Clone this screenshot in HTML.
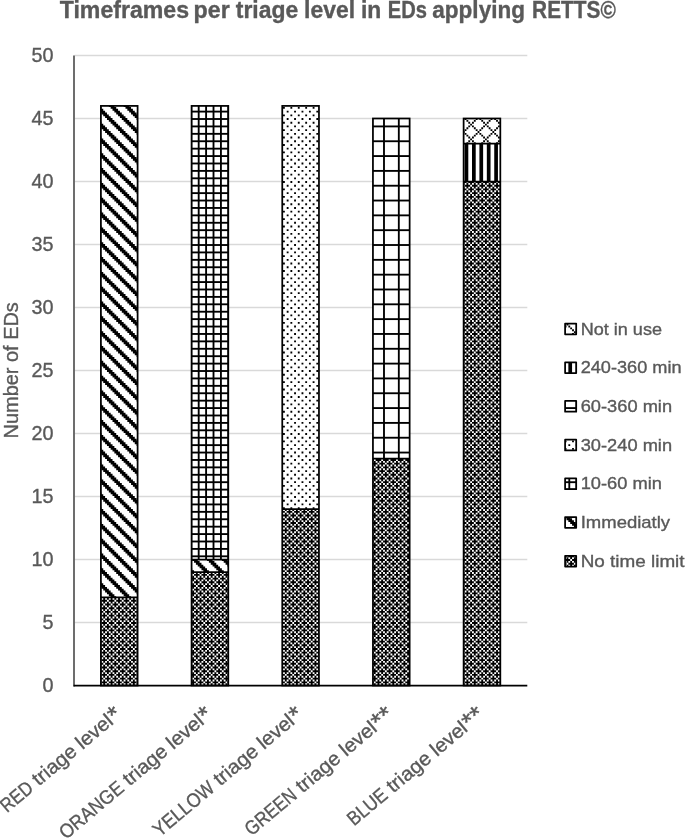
<!DOCTYPE html>
<html><head><meta charset="utf-8"><title>Timeframes per triage level</title>
<style>html,body{margin:0;padding:0;background:#fff;}svg{display:block;filter:grayscale(1);}text{font-family:"Liberation Sans",sans-serif;fill:#595959;stroke:#595959;stroke-width:0.35px;}</style></head><body>
<svg width="685" height="838" viewBox="0 0 685 838">
<defs><path id="band" d="M0 0h1.853v1.853h1.853v1.853h1.853v1.853h1.853v1.853h1.853v1.853h1.853v1.853h1.853v1.853h1.853v1.853h1.853v1.853h1.853v1.853h1.853v1.853h1.853v1.853h1.853v1.853h1.853v1.853h1.853v1.853h1.853v1.853h1.853v1.853h1.853v1.853h1.853v1.853h1.853v1.853h1.853v1.853h1.853v1.853h1.853v1.853h1.853v1.853v3.706h-1.853v-1.853h-1.853v-1.853h-1.853v-1.853h-1.853v-1.853h-1.853v-1.853h-1.853v-1.853h-1.853v-1.853h-1.853v-1.853h-1.853v-1.853h-1.853v-1.853h-1.853v-1.853h-1.853v-1.853h-1.853v-1.853h-1.853v-1.853h-1.853v-1.853h-1.853v-1.853h-1.853v-1.853h-1.853v-1.853h-1.853v-1.853h-1.853v-1.853h-1.853v-1.853h-1.853v-1.853h-1.853v-1.853h-1.853v-1.853z" fill="#000"/></defs>
<rect width="685" height="838" fill="#fff"/>
<text x="59.69" y="17.9" font-size="23.3" font-weight="bold" stroke="none" textLength="129.41" lengthAdjust="spacingAndGlyphs">Timeframes</text>
<text x="193.62" y="17.9" font-size="23.3" font-weight="bold" stroke="none" textLength="36.04" lengthAdjust="spacingAndGlyphs">per</text>
<text x="235.76" y="17.9" font-size="23.3" font-weight="bold" stroke="none" textLength="62.43" lengthAdjust="spacingAndGlyphs">triage</text>
<text x="304.10" y="17.9" font-size="23.3" font-weight="bold" stroke="none" textLength="50.95" lengthAdjust="spacingAndGlyphs">level</text>
<text x="361.02" y="17.9" font-size="23.3" font-weight="bold" stroke="none" textLength="20.31" lengthAdjust="spacingAndGlyphs">in</text>
<text x="387.76" y="17.9" font-size="23.3" font-weight="bold" stroke="none" textLength="39.13" lengthAdjust="spacingAndGlyphs">EDs</text>
<text x="432.32" y="17.9" font-size="23.3" font-weight="bold" stroke="none" textLength="92.63" lengthAdjust="spacingAndGlyphs">applying</text>
<text x="532.10" y="17.9" font-size="23.3" font-weight="bold" stroke="none" textLength="83.73" lengthAdjust="spacingAndGlyphs">RETTS©</text>
<line x1="74.6" y1="622.50" x2="527.3" y2="622.50" stroke="#d9d9d9" stroke-width="1.3"/>
<line x1="74.6" y1="559.50" x2="527.3" y2="559.50" stroke="#d9d9d9" stroke-width="1.3"/>
<line x1="74.6" y1="496.50" x2="527.3" y2="496.50" stroke="#d9d9d9" stroke-width="1.3"/>
<line x1="74.6" y1="433.50" x2="527.3" y2="433.50" stroke="#d9d9d9" stroke-width="1.3"/>
<line x1="74.6" y1="370.50" x2="527.3" y2="370.50" stroke="#d9d9d9" stroke-width="1.3"/>
<line x1="74.6" y1="307.50" x2="527.3" y2="307.50" stroke="#d9d9d9" stroke-width="1.3"/>
<line x1="74.6" y1="244.50" x2="527.3" y2="244.50" stroke="#d9d9d9" stroke-width="1.3"/>
<line x1="74.6" y1="181.50" x2="527.3" y2="181.50" stroke="#d9d9d9" stroke-width="1.3"/>
<line x1="74.6" y1="118.50" x2="527.3" y2="118.50" stroke="#d9d9d9" stroke-width="1.3"/>
<line x1="74.6" y1="55.50" x2="527.3" y2="55.50" stroke="#d9d9d9" stroke-width="1.3"/>
<text x="53.6" y="691.90" font-size="19.8" text-anchor="end">0</text>
<text x="53.6" y="628.90" font-size="19.8" text-anchor="end">5</text>
<text x="53.6" y="565.90" font-size="19.8" text-anchor="end">10</text>
<text x="53.6" y="502.90" font-size="19.8" text-anchor="end">15</text>
<text x="53.6" y="439.90" font-size="19.8" text-anchor="end">20</text>
<text x="53.6" y="376.90" font-size="19.8" text-anchor="end">25</text>
<text x="53.6" y="313.90" font-size="19.8" text-anchor="end">30</text>
<text x="53.6" y="250.90" font-size="19.8" text-anchor="end">35</text>
<text x="53.6" y="187.90" font-size="19.8" text-anchor="end">40</text>
<text x="53.6" y="124.90" font-size="19.8" text-anchor="end">45</text>
<text x="53.6" y="61.90" font-size="19.8" text-anchor="end">50</text>
<text transform="translate(17.7,370.3) rotate(-90)" font-size="20.7" text-anchor="middle" textLength="136.2" lengthAdjust="spacingAndGlyphs">Number of EDs</text>
<clipPath id="c1"><rect x="100.9" y="597.3" width="36.7" height="88.2"/></clipPath><g clip-path="url(#c1)"><rect x="100.9" y="597.3" width="36.7" height="88.2" fill="#000"/><g stroke="#fff" stroke-width="1.853"><line x1="98.625" y1="594.303" x2="98.625" y2="686.5" stroke-dasharray="1.853 1.853 1.853 1.853"/><line x1="100.478" y1="592.45" x2="100.478" y2="686.5" stroke-dasharray="1.853 5.559"/><line x1="102.331" y1="594.303" x2="102.331" y2="686.5" stroke-dasharray="1.853 1.853 1.853 1.853"/><line x1="104.184" y1="596.156" x2="104.184" y2="686.5" stroke-dasharray="1.853 5.559"/><line x1="106.037" y1="594.303" x2="106.037" y2="686.5" stroke-dasharray="1.853 1.853 1.853 1.853"/><line x1="107.89" y1="592.45" x2="107.89" y2="686.5" stroke-dasharray="1.853 5.559"/><line x1="109.743" y1="594.303" x2="109.743" y2="686.5" stroke-dasharray="1.853 1.853 1.853 1.853"/><line x1="111.596" y1="596.156" x2="111.596" y2="686.5" stroke-dasharray="1.853 5.559"/><line x1="113.45" y1="594.303" x2="113.45" y2="686.5" stroke-dasharray="1.853 1.853 1.853 1.853"/><line x1="115.302" y1="592.45" x2="115.302" y2="686.5" stroke-dasharray="1.853 5.559"/><line x1="117.155" y1="594.303" x2="117.155" y2="686.5" stroke-dasharray="1.853 1.853 1.853 1.853"/><line x1="119.008" y1="596.156" x2="119.008" y2="686.5" stroke-dasharray="1.853 5.559"/><line x1="120.861" y1="594.303" x2="120.861" y2="686.5" stroke-dasharray="1.853 1.853 1.853 1.853"/><line x1="122.714" y1="592.45" x2="122.714" y2="686.5" stroke-dasharray="1.853 5.559"/><line x1="124.567" y1="594.303" x2="124.567" y2="686.5" stroke-dasharray="1.853 1.853 1.853 1.853"/><line x1="126.42" y1="596.156" x2="126.42" y2="686.5" stroke-dasharray="1.853 5.559"/><line x1="128.274" y1="594.303" x2="128.274" y2="686.5" stroke-dasharray="1.853 1.853 1.853 1.853"/><line x1="130.127" y1="592.45" x2="130.127" y2="686.5" stroke-dasharray="1.853 5.559"/><line x1="131.98" y1="594.303" x2="131.98" y2="686.5" stroke-dasharray="1.853 1.853 1.853 1.853"/><line x1="133.833" y1="596.156" x2="133.833" y2="686.5" stroke-dasharray="1.853 5.559"/><line x1="135.686" y1="594.303" x2="135.686" y2="686.5" stroke-dasharray="1.853 1.853 1.853 1.853"/><line x1="137.538" y1="592.45" x2="137.538" y2="686.5" stroke-dasharray="1.853 5.559"/><line x1="139.392" y1="594.303" x2="139.392" y2="686.5" stroke-dasharray="1.853 1.853 1.853 1.853"/></g></g>
<clipPath id="c2"><rect x="100.9" y="105.9" width="36.7" height="491.4"/></clipPath><g clip-path="url(#c2)"><rect x="100.9" y="105.9" width="36.7" height="491.4" fill="#fff"/><use href="#band" x="97.699" y="30.991"/><use href="#band" x="97.699" y="45.815"/><use href="#band" x="97.699" y="60.639"/><use href="#band" x="97.699" y="75.463"/><use href="#band" x="97.699" y="90.287"/><use href="#band" x="97.699" y="105.111"/><use href="#band" x="97.699" y="119.935"/><use href="#band" x="97.699" y="134.759"/><use href="#band" x="97.699" y="149.583"/><use href="#band" x="97.699" y="164.407"/><use href="#band" x="97.699" y="179.231"/><use href="#band" x="97.699" y="194.055"/><use href="#band" x="97.699" y="208.879"/><use href="#band" x="97.699" y="223.703"/><use href="#band" x="97.699" y="238.527"/><use href="#band" x="97.699" y="253.351"/><use href="#band" x="97.699" y="268.175"/><use href="#band" x="97.699" y="282.999"/><use href="#band" x="97.699" y="297.823"/><use href="#band" x="97.699" y="312.647"/><use href="#band" x="97.699" y="327.471"/><use href="#band" x="97.699" y="342.295"/><use href="#band" x="97.699" y="357.119"/><use href="#band" x="97.699" y="371.943"/><use href="#band" x="97.699" y="386.767"/><use href="#band" x="97.699" y="401.591"/><use href="#band" x="97.699" y="416.415"/><use href="#band" x="97.699" y="431.239"/><use href="#band" x="97.699" y="446.063"/><use href="#band" x="97.699" y="460.887"/><use href="#band" x="97.699" y="475.711"/><use href="#band" x="97.699" y="490.535"/><use href="#band" x="97.699" y="505.359"/><use href="#band" x="97.699" y="520.183"/><use href="#band" x="97.699" y="535.007"/><use href="#band" x="97.699" y="549.831"/><use href="#band" x="97.699" y="564.655"/><use href="#band" x="97.699" y="579.479"/><use href="#band" x="97.699" y="594.303"/><use href="#band" x="97.699" y="609.127"/></g>
<rect x="100.90" y="105.90" width="36.70" height="579.60" fill="none" stroke="#000" stroke-width="1.75"/>
<line x1="100.90" y1="597.30" x2="137.60" y2="597.30" stroke="#000" stroke-width="1.75"/>
<clipPath id="c3"><rect x="191.58" y="572.1" width="36.7" height="113.4"/></clipPath><g clip-path="url(#c3)"><rect x="191.58" y="572.1" width="36.7" height="113.4" fill="#000"/><g stroke="#fff" stroke-width="1.853"><line x1="189.423" y1="570.214" x2="189.423" y2="686.5" stroke-dasharray="1.853 5.559"/><line x1="191.275" y1="572.067" x2="191.275" y2="686.5" stroke-dasharray="1.853 1.853 1.853 1.853"/><line x1="193.129" y1="573.92" x2="193.129" y2="686.5" stroke-dasharray="1.853 5.559"/><line x1="194.982" y1="572.067" x2="194.982" y2="686.5" stroke-dasharray="1.853 1.853 1.853 1.853"/><line x1="196.835" y1="570.214" x2="196.835" y2="686.5" stroke-dasharray="1.853 5.559"/><line x1="198.688" y1="572.067" x2="198.688" y2="686.5" stroke-dasharray="1.853 1.853 1.853 1.853"/><line x1="200.541" y1="573.92" x2="200.541" y2="686.5" stroke-dasharray="1.853 5.559"/><line x1="202.394" y1="572.067" x2="202.394" y2="686.5" stroke-dasharray="1.853 1.853 1.853 1.853"/><line x1="204.246" y1="570.214" x2="204.246" y2="686.5" stroke-dasharray="1.853 5.559"/><line x1="206.1" y1="572.067" x2="206.1" y2="686.5" stroke-dasharray="1.853 1.853 1.853 1.853"/><line x1="207.953" y1="573.92" x2="207.953" y2="686.5" stroke-dasharray="1.853 5.559"/><line x1="209.805" y1="572.067" x2="209.805" y2="686.5" stroke-dasharray="1.853 1.853 1.853 1.853"/><line x1="211.659" y1="570.214" x2="211.659" y2="686.5" stroke-dasharray="1.853 5.559"/><line x1="213.512" y1="572.067" x2="213.512" y2="686.5" stroke-dasharray="1.853 1.853 1.853 1.853"/><line x1="215.365" y1="573.92" x2="215.365" y2="686.5" stroke-dasharray="1.853 5.559"/><line x1="217.218" y1="572.067" x2="217.218" y2="686.5" stroke-dasharray="1.853 1.853 1.853 1.853"/><line x1="219.071" y1="570.214" x2="219.071" y2="686.5" stroke-dasharray="1.853 5.559"/><line x1="220.924" y1="572.067" x2="220.924" y2="686.5" stroke-dasharray="1.853 1.853 1.853 1.853"/><line x1="222.776" y1="573.92" x2="222.776" y2="686.5" stroke-dasharray="1.853 5.559"/><line x1="224.63" y1="572.067" x2="224.63" y2="686.5" stroke-dasharray="1.853 1.853 1.853 1.853"/><line x1="226.483" y1="570.214" x2="226.483" y2="686.5" stroke-dasharray="1.853 5.559"/><line x1="228.335" y1="572.067" x2="228.335" y2="686.5" stroke-dasharray="1.853 1.853 1.853 1.853"/><line x1="230.189" y1="573.92" x2="230.189" y2="686.5" stroke-dasharray="1.853 5.559"/></g></g>
<clipPath id="c4"><rect x="191.58" y="559.5" width="36.7" height="12.6"/></clipPath><g clip-path="url(#c4)"><rect x="191.58" y="559.5" width="36.7" height="12.6" fill="#fff"/><use href="#band" x="188.496" y="492.388"/><use href="#band" x="188.496" y="507.212"/><use href="#band" x="188.496" y="522.036"/><use href="#band" x="188.496" y="536.86"/><use href="#band" x="188.496" y="551.684"/><use href="#band" x="188.496" y="566.508"/><use href="#band" x="188.496" y="581.332"/></g>
<clipPath id="c5"><rect x="191.58" y="105.9" width="36.7" height="453.6"/></clipPath><g clip-path="url(#c5)"><rect x="191.58" y="105.9" width="36.7" height="453.6" fill="#fff"/><g stroke="#000" stroke-width="1.853"><rect x="190.349" y="105.9" width="1.853" height="453.6" fill="#000" stroke="none"/><rect x="197.761" y="105.9" width="1.853" height="453.6" fill="#000" stroke="none"/><rect x="205.173" y="105.9" width="1.853" height="453.6" fill="#000" stroke="none"/><rect x="212.585" y="105.9" width="1.853" height="453.6" fill="#000" stroke="none"/><rect x="219.997" y="105.9" width="1.853" height="453.6" fill="#000" stroke="none"/><rect x="227.409" y="105.9" width="1.853" height="453.6" fill="#000" stroke="none"/><rect x="191.58" y="103.258" width="36.7" height="1.853" fill="#000" stroke="none"/><rect x="191.58" y="110.67" width="36.7" height="1.853" fill="#000" stroke="none"/><rect x="191.58" y="118.082" width="36.7" height="1.853" fill="#000" stroke="none"/><rect x="191.58" y="125.494" width="36.7" height="1.853" fill="#000" stroke="none"/><rect x="191.58" y="132.906" width="36.7" height="1.853" fill="#000" stroke="none"/><rect x="191.58" y="140.318" width="36.7" height="1.853" fill="#000" stroke="none"/><rect x="191.58" y="147.73" width="36.7" height="1.853" fill="#000" stroke="none"/><rect x="191.58" y="155.142" width="36.7" height="1.853" fill="#000" stroke="none"/><rect x="191.58" y="162.554" width="36.7" height="1.853" fill="#000" stroke="none"/><rect x="191.58" y="169.966" width="36.7" height="1.853" fill="#000" stroke="none"/><rect x="191.58" y="177.378" width="36.7" height="1.853" fill="#000" stroke="none"/><rect x="191.58" y="184.79" width="36.7" height="1.853" fill="#000" stroke="none"/><rect x="191.58" y="192.202" width="36.7" height="1.853" fill="#000" stroke="none"/><rect x="191.58" y="199.614" width="36.7" height="1.853" fill="#000" stroke="none"/><rect x="191.58" y="207.026" width="36.7" height="1.853" fill="#000" stroke="none"/><rect x="191.58" y="214.438" width="36.7" height="1.853" fill="#000" stroke="none"/><rect x="191.58" y="221.85" width="36.7" height="1.853" fill="#000" stroke="none"/><rect x="191.58" y="229.262" width="36.7" height="1.853" fill="#000" stroke="none"/><rect x="191.58" y="236.674" width="36.7" height="1.853" fill="#000" stroke="none"/><rect x="191.58" y="244.086" width="36.7" height="1.853" fill="#000" stroke="none"/><rect x="191.58" y="251.498" width="36.7" height="1.853" fill="#000" stroke="none"/><rect x="191.58" y="258.91" width="36.7" height="1.853" fill="#000" stroke="none"/><rect x="191.58" y="266.322" width="36.7" height="1.853" fill="#000" stroke="none"/><rect x="191.58" y="273.734" width="36.7" height="1.853" fill="#000" stroke="none"/><rect x="191.58" y="281.146" width="36.7" height="1.853" fill="#000" stroke="none"/><rect x="191.58" y="288.558" width="36.7" height="1.853" fill="#000" stroke="none"/><rect x="191.58" y="295.97" width="36.7" height="1.853" fill="#000" stroke="none"/><rect x="191.58" y="303.382" width="36.7" height="1.853" fill="#000" stroke="none"/><rect x="191.58" y="310.794" width="36.7" height="1.853" fill="#000" stroke="none"/><rect x="191.58" y="318.206" width="36.7" height="1.853" fill="#000" stroke="none"/><rect x="191.58" y="325.618" width="36.7" height="1.853" fill="#000" stroke="none"/><rect x="191.58" y="333.03" width="36.7" height="1.853" fill="#000" stroke="none"/><rect x="191.58" y="340.442" width="36.7" height="1.853" fill="#000" stroke="none"/><rect x="191.58" y="347.854" width="36.7" height="1.853" fill="#000" stroke="none"/><rect x="191.58" y="355.266" width="36.7" height="1.853" fill="#000" stroke="none"/><rect x="191.58" y="362.678" width="36.7" height="1.853" fill="#000" stroke="none"/><rect x="191.58" y="370.09" width="36.7" height="1.853" fill="#000" stroke="none"/><rect x="191.58" y="377.502" width="36.7" height="1.853" fill="#000" stroke="none"/><rect x="191.58" y="384.914" width="36.7" height="1.853" fill="#000" stroke="none"/><rect x="191.58" y="392.326" width="36.7" height="1.853" fill="#000" stroke="none"/><rect x="191.58" y="399.738" width="36.7" height="1.853" fill="#000" stroke="none"/><rect x="191.58" y="407.15" width="36.7" height="1.853" fill="#000" stroke="none"/><rect x="191.58" y="414.562" width="36.7" height="1.853" fill="#000" stroke="none"/><rect x="191.58" y="421.974" width="36.7" height="1.853" fill="#000" stroke="none"/><rect x="191.58" y="429.386" width="36.7" height="1.853" fill="#000" stroke="none"/><rect x="191.58" y="436.798" width="36.7" height="1.853" fill="#000" stroke="none"/><rect x="191.58" y="444.21" width="36.7" height="1.853" fill="#000" stroke="none"/><rect x="191.58" y="451.622" width="36.7" height="1.853" fill="#000" stroke="none"/><rect x="191.58" y="459.034" width="36.7" height="1.853" fill="#000" stroke="none"/><rect x="191.58" y="466.446" width="36.7" height="1.853" fill="#000" stroke="none"/><rect x="191.58" y="473.858" width="36.7" height="1.853" fill="#000" stroke="none"/><rect x="191.58" y="481.27" width="36.7" height="1.853" fill="#000" stroke="none"/><rect x="191.58" y="488.682" width="36.7" height="1.853" fill="#000" stroke="none"/><rect x="191.58" y="496.094" width="36.7" height="1.853" fill="#000" stroke="none"/><rect x="191.58" y="503.506" width="36.7" height="1.853" fill="#000" stroke="none"/><rect x="191.58" y="510.918" width="36.7" height="1.853" fill="#000" stroke="none"/><rect x="191.58" y="518.33" width="36.7" height="1.853" fill="#000" stroke="none"/><rect x="191.58" y="525.742" width="36.7" height="1.853" fill="#000" stroke="none"/><rect x="191.58" y="533.154" width="36.7" height="1.853" fill="#000" stroke="none"/><rect x="191.58" y="540.566" width="36.7" height="1.853" fill="#000" stroke="none"/><rect x="191.58" y="547.978" width="36.7" height="1.853" fill="#000" stroke="none"/><rect x="191.58" y="555.39" width="36.7" height="1.853" fill="#000" stroke="none"/></g></g>
<rect x="191.58" y="105.90" width="36.70" height="579.60" fill="none" stroke="#000" stroke-width="1.75"/>
<line x1="191.58" y1="572.10" x2="228.28" y2="572.10" stroke="#000" stroke-width="1.75"/>
<line x1="191.58" y1="559.50" x2="228.28" y2="559.50" stroke="#000" stroke-width="1.75"/>
<clipPath id="c6"><rect x="282.26" y="509.1" width="36.7" height="176.4"/></clipPath><g clip-path="url(#c6)"><rect x="282.26" y="509.1" width="36.7" height="176.4" fill="#000"/><g stroke="#fff" stroke-width="1.853"><line x1="280.219" y1="505.359" x2="280.219" y2="686.5" stroke-dasharray="1.853 1.853 1.853 1.853"/><line x1="282.072" y1="507.212" x2="282.072" y2="686.5" stroke-dasharray="1.853 5.559"/><line x1="283.925" y1="505.359" x2="283.925" y2="686.5" stroke-dasharray="1.853 1.853 1.853 1.853"/><line x1="285.779" y1="503.506" x2="285.779" y2="686.5" stroke-dasharray="1.853 5.559"/><line x1="287.632" y1="505.359" x2="287.632" y2="686.5" stroke-dasharray="1.853 1.853 1.853 1.853"/><line x1="289.485" y1="507.212" x2="289.485" y2="686.5" stroke-dasharray="1.853 5.559"/><line x1="291.338" y1="505.359" x2="291.338" y2="686.5" stroke-dasharray="1.853 1.853 1.853 1.853"/><line x1="293.19" y1="503.506" x2="293.19" y2="686.5" stroke-dasharray="1.853 5.559"/><line x1="295.043" y1="505.359" x2="295.043" y2="686.5" stroke-dasharray="1.853 1.853 1.853 1.853"/><line x1="296.897" y1="507.212" x2="296.897" y2="686.5" stroke-dasharray="1.853 5.559"/><line x1="298.75" y1="505.359" x2="298.75" y2="686.5" stroke-dasharray="1.853 1.853 1.853 1.853"/><line x1="300.603" y1="503.506" x2="300.603" y2="686.5" stroke-dasharray="1.853 5.559"/><line x1="302.456" y1="505.359" x2="302.456" y2="686.5" stroke-dasharray="1.853 1.853 1.853 1.853"/><line x1="304.308" y1="507.212" x2="304.308" y2="686.5" stroke-dasharray="1.853 5.559"/><line x1="306.161" y1="505.359" x2="306.161" y2="686.5" stroke-dasharray="1.853 1.853 1.853 1.853"/><line x1="308.014" y1="503.506" x2="308.014" y2="686.5" stroke-dasharray="1.853 5.559"/><line x1="309.868" y1="505.359" x2="309.868" y2="686.5" stroke-dasharray="1.853 1.853 1.853 1.853"/><line x1="311.721" y1="507.212" x2="311.721" y2="686.5" stroke-dasharray="1.853 5.559"/><line x1="313.574" y1="505.359" x2="313.574" y2="686.5" stroke-dasharray="1.853 1.853 1.853 1.853"/><line x1="315.427" y1="503.506" x2="315.427" y2="686.5" stroke-dasharray="1.853 5.559"/><line x1="317.279" y1="505.359" x2="317.279" y2="686.5" stroke-dasharray="1.853 1.853 1.853 1.853"/><line x1="319.132" y1="507.212" x2="319.132" y2="686.5" stroke-dasharray="1.853 5.559"/><line x1="320.986" y1="505.359" x2="320.986" y2="686.5" stroke-dasharray="1.853 1.853 1.853 1.853"/></g></g>
<clipPath id="c7"><rect x="282.26" y="105.9" width="36.7" height="403.2"/></clipPath><g clip-path="url(#c7)"><rect x="282.26" y="105.9" width="36.7" height="403.2" fill="#fff"/><g stroke="#000" stroke-width="1.853"><line x1="280.219" y1="103.258" x2="280.219" y2="510.1" stroke-dasharray="1.853 5.559"/><line x1="283.925" y1="106.964" x2="283.925" y2="510.1" stroke-dasharray="1.853 5.559"/><line x1="287.632" y1="103.258" x2="287.632" y2="510.1" stroke-dasharray="1.853 5.559"/><line x1="291.338" y1="106.964" x2="291.338" y2="510.1" stroke-dasharray="1.853 5.559"/><line x1="295.043" y1="103.258" x2="295.043" y2="510.1" stroke-dasharray="1.853 5.559"/><line x1="298.75" y1="106.964" x2="298.75" y2="510.1" stroke-dasharray="1.853 5.559"/><line x1="302.456" y1="103.258" x2="302.456" y2="510.1" stroke-dasharray="1.853 5.559"/><line x1="306.161" y1="106.964" x2="306.161" y2="510.1" stroke-dasharray="1.853 5.559"/><line x1="309.868" y1="103.258" x2="309.868" y2="510.1" stroke-dasharray="1.853 5.559"/><line x1="313.574" y1="106.964" x2="313.574" y2="510.1" stroke-dasharray="1.853 5.559"/><line x1="317.279" y1="103.258" x2="317.279" y2="510.1" stroke-dasharray="1.853 5.559"/><line x1="320.986" y1="106.964" x2="320.986" y2="510.1" stroke-dasharray="1.853 5.559"/></g></g>
<rect x="282.26" y="105.90" width="36.70" height="579.60" fill="none" stroke="#000" stroke-width="1.75"/>
<line x1="282.26" y1="509.10" x2="318.96" y2="509.10" stroke="#000" stroke-width="1.75"/>
<clipPath id="c8"><rect x="372.94" y="458.7" width="36.7" height="226.8"/></clipPath><g clip-path="url(#c8)"><rect x="372.94" y="458.7" width="36.7" height="226.8" fill="#000"/><g stroke="#fff" stroke-width="1.853"><line x1="371.017" y1="455.328" x2="371.017" y2="686.5" stroke-dasharray="1.853 5.559"/><line x1="372.87" y1="453.475" x2="372.87" y2="686.5" stroke-dasharray="1.853 1.853 1.853 1.853"/><line x1="374.723" y1="451.622" x2="374.723" y2="686.5" stroke-dasharray="1.853 5.559"/><line x1="376.575" y1="453.475" x2="376.575" y2="686.5" stroke-dasharray="1.853 1.853 1.853 1.853"/><line x1="378.428" y1="455.328" x2="378.428" y2="686.5" stroke-dasharray="1.853 5.559"/><line x1="380.281" y1="453.475" x2="380.281" y2="686.5" stroke-dasharray="1.853 1.853 1.853 1.853"/><line x1="382.135" y1="451.622" x2="382.135" y2="686.5" stroke-dasharray="1.853 5.559"/><line x1="383.988" y1="453.475" x2="383.988" y2="686.5" stroke-dasharray="1.853 1.853 1.853 1.853"/><line x1="385.841" y1="455.328" x2="385.841" y2="686.5" stroke-dasharray="1.853 5.559"/><line x1="387.694" y1="453.475" x2="387.694" y2="686.5" stroke-dasharray="1.853 1.853 1.853 1.853"/><line x1="389.546" y1="451.622" x2="389.546" y2="686.5" stroke-dasharray="1.853 5.559"/><line x1="391.399" y1="453.475" x2="391.399" y2="686.5" stroke-dasharray="1.853 1.853 1.853 1.853"/><line x1="393.252" y1="455.328" x2="393.252" y2="686.5" stroke-dasharray="1.853 5.559"/><line x1="395.106" y1="453.475" x2="395.106" y2="686.5" stroke-dasharray="1.853 1.853 1.853 1.853"/><line x1="396.959" y1="451.622" x2="396.959" y2="686.5" stroke-dasharray="1.853 5.559"/><line x1="398.812" y1="453.475" x2="398.812" y2="686.5" stroke-dasharray="1.853 1.853 1.853 1.853"/><line x1="400.665" y1="455.328" x2="400.665" y2="686.5" stroke-dasharray="1.853 5.559"/><line x1="402.517" y1="453.475" x2="402.517" y2="686.5" stroke-dasharray="1.853 1.853 1.853 1.853"/><line x1="404.37" y1="451.622" x2="404.37" y2="686.5" stroke-dasharray="1.853 5.559"/><line x1="406.224" y1="453.475" x2="406.224" y2="686.5" stroke-dasharray="1.853 1.853 1.853 1.853"/><line x1="408.077" y1="455.328" x2="408.077" y2="686.5" stroke-dasharray="1.853 5.559"/><line x1="409.93" y1="453.475" x2="409.93" y2="686.5" stroke-dasharray="1.853 1.853 1.853 1.853"/><line x1="411.783" y1="451.622" x2="411.783" y2="686.5" stroke-dasharray="1.853 5.559"/></g></g>
<clipPath id="c9"><rect x="372.94" y="118.5" width="36.7" height="340.2"/></clipPath><g clip-path="url(#c9)"><rect x="372.94" y="118.5" width="36.7" height="340.2" fill="#fff"/><g stroke="#000" stroke-width="1.853"><rect x="383.061" y="118.5" width="1.853" height="340.2" fill="#000" stroke="none"/><rect x="397.885" y="118.5" width="1.853" height="340.2" fill="#000" stroke="none"/><rect x="372.94" y="110.67" width="36.7" height="1.853" fill="#000" stroke="none"/><rect x="372.94" y="125.494" width="36.7" height="1.853" fill="#000" stroke="none"/><rect x="372.94" y="140.318" width="36.7" height="1.853" fill="#000" stroke="none"/><rect x="372.94" y="155.142" width="36.7" height="1.853" fill="#000" stroke="none"/><rect x="372.94" y="169.966" width="36.7" height="1.853" fill="#000" stroke="none"/><rect x="372.94" y="184.79" width="36.7" height="1.853" fill="#000" stroke="none"/><rect x="372.94" y="199.614" width="36.7" height="1.853" fill="#000" stroke="none"/><rect x="372.94" y="214.438" width="36.7" height="1.853" fill="#000" stroke="none"/><rect x="372.94" y="229.262" width="36.7" height="1.853" fill="#000" stroke="none"/><rect x="372.94" y="244.086" width="36.7" height="1.853" fill="#000" stroke="none"/><rect x="372.94" y="258.91" width="36.7" height="1.853" fill="#000" stroke="none"/><rect x="372.94" y="273.734" width="36.7" height="1.853" fill="#000" stroke="none"/><rect x="372.94" y="288.558" width="36.7" height="1.853" fill="#000" stroke="none"/><rect x="372.94" y="303.382" width="36.7" height="1.853" fill="#000" stroke="none"/><rect x="372.94" y="318.206" width="36.7" height="1.853" fill="#000" stroke="none"/><rect x="372.94" y="333.03" width="36.7" height="1.853" fill="#000" stroke="none"/><rect x="372.94" y="347.854" width="36.7" height="1.853" fill="#000" stroke="none"/><rect x="372.94" y="362.678" width="36.7" height="1.853" fill="#000" stroke="none"/><rect x="372.94" y="377.502" width="36.7" height="1.853" fill="#000" stroke="none"/><rect x="372.94" y="392.326" width="36.7" height="1.853" fill="#000" stroke="none"/><rect x="372.94" y="407.15" width="36.7" height="1.853" fill="#000" stroke="none"/><rect x="372.94" y="421.974" width="36.7" height="1.853" fill="#000" stroke="none"/><rect x="372.94" y="436.798" width="36.7" height="1.853" fill="#000" stroke="none"/><rect x="372.94" y="451.622" width="36.7" height="1.853" fill="#000" stroke="none"/></g></g>
<rect x="372.94" y="118.50" width="36.70" height="567.00" fill="none" stroke="#000" stroke-width="1.75"/>
<line x1="372.94" y1="458.70" x2="409.64" y2="458.70" stroke="#000" stroke-width="1.75"/>
<clipPath id="c10"><rect x="463.62" y="181.5" width="36.7" height="504"/></clipPath><g clip-path="url(#c10)"><rect x="463.62" y="181.5" width="36.7" height="504" fill="#000"/><g stroke="#fff" stroke-width="1.853"><line x1="461.813" y1="179.231" x2="461.813" y2="686.5" stroke-dasharray="1.853 1.853 1.853 1.853"/><line x1="463.666" y1="177.378" x2="463.666" y2="686.5" stroke-dasharray="1.853 5.559"/><line x1="465.519" y1="179.231" x2="465.519" y2="686.5" stroke-dasharray="1.853 1.853 1.853 1.853"/><line x1="467.373" y1="181.084" x2="467.373" y2="686.5" stroke-dasharray="1.853 5.559"/><line x1="469.226" y1="179.231" x2="469.226" y2="686.5" stroke-dasharray="1.853 1.853 1.853 1.853"/><line x1="471.079" y1="177.378" x2="471.079" y2="686.5" stroke-dasharray="1.853 5.559"/><line x1="472.932" y1="179.231" x2="472.932" y2="686.5" stroke-dasharray="1.853 1.853 1.853 1.853"/><line x1="474.784" y1="181.084" x2="474.784" y2="686.5" stroke-dasharray="1.853 5.559"/><line x1="476.637" y1="179.231" x2="476.637" y2="686.5" stroke-dasharray="1.853 1.853 1.853 1.853"/><line x1="478.49" y1="177.378" x2="478.49" y2="686.5" stroke-dasharray="1.853 5.559"/><line x1="480.344" y1="179.231" x2="480.344" y2="686.5" stroke-dasharray="1.853 1.853 1.853 1.853"/><line x1="482.197" y1="181.084" x2="482.197" y2="686.5" stroke-dasharray="1.853 5.559"/><line x1="484.05" y1="179.231" x2="484.05" y2="686.5" stroke-dasharray="1.853 1.853 1.853 1.853"/><line x1="485.903" y1="177.378" x2="485.903" y2="686.5" stroke-dasharray="1.853 5.559"/><line x1="487.755" y1="179.231" x2="487.755" y2="686.5" stroke-dasharray="1.853 1.853 1.853 1.853"/><line x1="489.608" y1="181.084" x2="489.608" y2="686.5" stroke-dasharray="1.853 5.559"/><line x1="491.462" y1="179.231" x2="491.462" y2="686.5" stroke-dasharray="1.853 1.853 1.853 1.853"/><line x1="493.315" y1="177.378" x2="493.315" y2="686.5" stroke-dasharray="1.853 5.559"/><line x1="495.168" y1="179.231" x2="495.168" y2="686.5" stroke-dasharray="1.853 1.853 1.853 1.853"/><line x1="497.021" y1="181.084" x2="497.021" y2="686.5" stroke-dasharray="1.853 5.559"/><line x1="498.873" y1="179.231" x2="498.873" y2="686.5" stroke-dasharray="1.853 1.853 1.853 1.853"/><line x1="500.726" y1="177.378" x2="500.726" y2="686.5" stroke-dasharray="1.853 5.559"/><line x1="502.579" y1="179.231" x2="502.579" y2="686.5" stroke-dasharray="1.853 1.853 1.853 1.853"/></g></g>
<clipPath id="c11"><rect x="463.62" y="143.7" width="36.7" height="37.8"/></clipPath><g clip-path="url(#c11)"><rect x="463.62" y="143.7" width="36.7" height="37.8" fill="#fff"/><g stroke="#000" stroke-width="1.853"><rect x="464.593" y="143.7" width="3.706" height="37.8" fill="#000" stroke="none"/><rect x="472.005" y="143.7" width="3.706" height="37.8" fill="#000" stroke="none"/><rect x="479.417" y="143.7" width="3.706" height="37.8" fill="#000" stroke="none"/><rect x="486.829" y="143.7" width="3.706" height="37.8" fill="#000" stroke="none"/><rect x="494.241" y="143.7" width="3.706" height="37.8" fill="#000" stroke="none"/><rect x="501.653" y="143.7" width="1.853" height="37.8" fill="#000" stroke="none"/></g></g>
<clipPath id="c12"><rect x="463.62" y="118.5" width="36.7" height="25.2"/></clipPath><g clip-path="url(#c12)"><rect x="463.62" y="118.5" width="36.7" height="25.2" fill="#fff"/><g stroke="#000" stroke-width="1.853"><line x1="461.813" y1="103.258" x2="461.813" y2="144.7" stroke-dasharray="1.853 9.265 1.853 1.853"/><line x1="463.666" y1="116.229" x2="463.666" y2="144.7" stroke-dasharray="1.853 12.971"/><line x1="465.519" y1="103.258" x2="465.519" y2="144.7" stroke-dasharray="1.853 9.265 1.853 1.853"/><line x1="467.373" y1="105.111" x2="467.373" y2="144.7" stroke-dasharray="1.853 5.559 1.853 5.559"/><line x1="469.226" y1="106.964" x2="469.226" y2="144.7" stroke-dasharray="1.853 1.853 1.853 9.265"/><line x1="471.079" y1="108.817" x2="471.079" y2="144.7" stroke-dasharray="1.853 12.971"/><line x1="472.932" y1="106.964" x2="472.932" y2="144.7" stroke-dasharray="1.853 1.853 1.853 9.265"/><line x1="474.784" y1="105.111" x2="474.784" y2="144.7" stroke-dasharray="1.853 5.559 1.853 5.559"/><line x1="476.637" y1="103.258" x2="476.637" y2="144.7" stroke-dasharray="1.853 9.265 1.853 1.853"/><line x1="478.49" y1="116.229" x2="478.49" y2="144.7" stroke-dasharray="1.853 12.971"/><line x1="480.344" y1="103.258" x2="480.344" y2="144.7" stroke-dasharray="1.853 9.265 1.853 1.853"/><line x1="482.197" y1="105.111" x2="482.197" y2="144.7" stroke-dasharray="1.853 5.559 1.853 5.559"/><line x1="484.05" y1="106.964" x2="484.05" y2="144.7" stroke-dasharray="1.853 1.853 1.853 9.265"/><line x1="485.903" y1="108.817" x2="485.903" y2="144.7" stroke-dasharray="1.853 12.971"/><line x1="487.755" y1="106.964" x2="487.755" y2="144.7" stroke-dasharray="1.853 1.853 1.853 9.265"/><line x1="489.608" y1="105.111" x2="489.608" y2="144.7" stroke-dasharray="1.853 5.559 1.853 5.559"/><line x1="491.462" y1="103.258" x2="491.462" y2="144.7" stroke-dasharray="1.853 9.265 1.853 1.853"/><line x1="493.315" y1="116.229" x2="493.315" y2="144.7" stroke-dasharray="1.853 12.971"/><line x1="495.168" y1="103.258" x2="495.168" y2="144.7" stroke-dasharray="1.853 9.265 1.853 1.853"/><line x1="497.021" y1="105.111" x2="497.021" y2="144.7" stroke-dasharray="1.853 5.559 1.853 5.559"/><line x1="498.873" y1="106.964" x2="498.873" y2="144.7" stroke-dasharray="1.853 1.853 1.853 9.265"/><line x1="500.726" y1="108.817" x2="500.726" y2="144.7" stroke-dasharray="1.853 12.971"/><line x1="502.579" y1="106.964" x2="502.579" y2="144.7" stroke-dasharray="1.853 1.853 1.853 9.265"/></g></g>
<rect x="463.62" y="118.50" width="36.70" height="567.00" fill="none" stroke="#000" stroke-width="1.75"/>
<line x1="463.62" y1="181.50" x2="500.32" y2="181.50" stroke="#000" stroke-width="1.75"/>
<line x1="463.62" y1="143.70" x2="500.32" y2="143.70" stroke="#000" stroke-width="1.75"/>
<line x1="74.0" y1="55.5" x2="74.0" y2="686.4" stroke="#595959" stroke-width="1.75"/>
<line x1="73.6" y1="685.6" x2="527.3" y2="685.6" stroke="#000" stroke-width="1.7"/>
<g transform="translate(122.75,716.20) rotate(-40)" font-size="19.8"><text x="-10.37" y="1.5" font-size="25" textLength="10.37" lengthAdjust="spacingAndGlyphs">*</text><text x="-52.48" y="0" textLength="41.60" lengthAdjust="spacingAndGlyphs">level</text><text x="-109.54" y="0" textLength="51.53" lengthAdjust="spacingAndGlyphs">triage</text><text x="-151.01" y="0" textLength="35.94" lengthAdjust="spacingAndGlyphs">RED</text></g>
<g transform="translate(213.43,716.20) rotate(-40)" font-size="19.8"><text x="-10.37" y="1.5" font-size="25" textLength="10.37" lengthAdjust="spacingAndGlyphs">*</text><text x="-52.48" y="0" textLength="41.60" lengthAdjust="spacingAndGlyphs">level</text><text x="-109.54" y="0" textLength="51.53" lengthAdjust="spacingAndGlyphs">triage</text><text x="-192.53" y="0" textLength="77.46" lengthAdjust="spacingAndGlyphs">ORANGE</text></g>
<g transform="translate(304.11,716.20) rotate(-40)" font-size="19.8"><text x="-10.37" y="1.5" font-size="25" textLength="10.37" lengthAdjust="spacingAndGlyphs">*</text><text x="-52.48" y="0" textLength="41.60" lengthAdjust="spacingAndGlyphs">level</text><text x="-109.54" y="0" textLength="51.53" lengthAdjust="spacingAndGlyphs">triage</text><text x="-188.61" y="0" textLength="73.54" lengthAdjust="spacingAndGlyphs">YELLOW</text></g>
<g transform="translate(394.79,716.20) rotate(-40)" font-size="19.8"><text x="-21.24" y="1.5" font-size="25" textLength="21.24" lengthAdjust="spacingAndGlyphs">**</text><text x="-63.35" y="0" textLength="41.60" lengthAdjust="spacingAndGlyphs">level</text><text x="-120.41" y="0" textLength="51.53" lengthAdjust="spacingAndGlyphs">triage</text><text x="-186.98" y="0" textLength="61.03" lengthAdjust="spacingAndGlyphs">GREEN</text></g>
<g transform="translate(485.47,716.20) rotate(-40)" font-size="19.8"><text x="-21.24" y="1.5" font-size="25" textLength="21.24" lengthAdjust="spacingAndGlyphs">**</text><text x="-63.35" y="0" textLength="41.60" lengthAdjust="spacingAndGlyphs">level</text><text x="-120.41" y="0" textLength="51.53" lengthAdjust="spacingAndGlyphs">triage</text><text x="-171.66" y="0" textLength="45.72" lengthAdjust="spacingAndGlyphs">BLUE</text></g>
<clipPath id="c13"><rect x="565.1" y="323.575" width="11.1" height="10.75"/></clipPath><g clip-path="url(#c13)"><rect x="565.1" y="323.575" width="11.1" height="10.75" fill="#fff"/><g stroke="#000" stroke-width="1.853"><line x1="563.729" y1="312.647" x2="563.729" y2="335.325" stroke-dasharray="1.853 5.559 1.853 5.559"/><line x1="565.582" y1="310.794" x2="565.582" y2="335.325" stroke-dasharray="1.853 9.265 1.853 1.853"/><line x1="567.434" y1="323.765" x2="567.434" y2="335.325" stroke-dasharray="1.853 12.971"/><line x1="569.288" y1="310.794" x2="569.288" y2="335.325" stroke-dasharray="1.853 9.265 1.853 1.853"/><line x1="571.14" y1="312.647" x2="571.14" y2="335.325" stroke-dasharray="1.853 5.559 1.853 5.559"/><line x1="572.994" y1="314.5" x2="572.994" y2="335.325" stroke-dasharray="1.853 1.853 1.853 9.265"/><line x1="574.846" y1="316.353" x2="574.846" y2="335.325" stroke-dasharray="1.853 12.971"/><line x1="576.7" y1="314.5" x2="576.7" y2="335.325" stroke-dasharray="1.853 1.853 1.853 9.265"/><line x1="578.553" y1="312.647" x2="578.553" y2="335.325" stroke-dasharray="1.853 5.559 1.853 5.559"/></g></g>
<rect x="565.1" y="323.57" width="11.1" height="10.75" fill="none" stroke="#000" stroke-width="1.75" stroke-linejoin="round"/>
<text x="580.7" y="334.60" font-size="16.4" textLength="81.3" lengthAdjust="spacingAndGlyphs">Not in use</text>
<clipPath id="c14"><rect x="565.1" y="362.275" width="11.1" height="10.75"/></clipPath><g clip-path="url(#c14)"><rect x="565.1" y="362.275" width="11.1" height="10.75" fill="#fff"/><g stroke="#000" stroke-width="1.853"><rect x="562.802" y="362.275" width="1.853" height="10.75" fill="#000" stroke="none"/><rect x="568.361" y="362.275" width="3.706" height="10.75" fill="#000" stroke="none"/><rect x="575.773" y="362.275" width="3.706" height="10.75" fill="#000" stroke="none"/></g></g>
<rect x="565.1" y="362.27" width="11.1" height="10.75" fill="none" stroke="#000" stroke-width="1.75" stroke-linejoin="round"/>
<text x="580.7" y="373.30" font-size="16.4" textLength="100.9" lengthAdjust="spacingAndGlyphs">240-360 min</text>
<clipPath id="c15"><rect x="565.1" y="400.975" width="11.1" height="10.75"/></clipPath><g clip-path="url(#c15)"><rect x="565.1" y="400.975" width="11.1" height="10.75" fill="#fff"/><g stroke="#000" stroke-width="1.853"><rect x="575.773" y="400.975" width="1.853" height="10.75" fill="#000" stroke="none"/><rect x="565.1" y="392.326" width="11.1" height="1.853" fill="#000" stroke="none"/><rect x="565.1" y="407.15" width="11.1" height="1.853" fill="#000" stroke="none"/></g></g>
<rect x="565.1" y="400.98" width="11.1" height="10.75" fill="none" stroke="#000" stroke-width="1.75" stroke-linejoin="round"/>
<text x="580.7" y="412.00" font-size="16.4" textLength="91.4" lengthAdjust="spacingAndGlyphs">60-360 min</text>
<clipPath id="c16"><rect x="565.1" y="439.675" width="11.1" height="10.75"/></clipPath><g clip-path="url(#c16)"><rect x="565.1" y="439.675" width="11.1" height="10.75" fill="#fff"/><g stroke="#000" stroke-width="1.853"><line x1="565.582" y1="440.504" x2="565.582" y2="451.425" stroke-dasharray="1.853 5.559"/><line x1="569.288" y1="436.798" x2="569.288" y2="451.425" stroke-dasharray="1.853 5.559"/><line x1="572.994" y1="440.504" x2="572.994" y2="451.425" stroke-dasharray="1.853 5.559"/><line x1="576.7" y1="436.798" x2="576.7" y2="451.425" stroke-dasharray="1.853 5.559"/></g></g>
<rect x="565.1" y="439.68" width="11.1" height="10.75" fill="none" stroke="#000" stroke-width="1.75" stroke-linejoin="round"/>
<text x="580.7" y="450.70" font-size="16.4" textLength="91.4" lengthAdjust="spacingAndGlyphs">30-240 min</text>
<clipPath id="c17"><rect x="565.1" y="478.375" width="11.1" height="10.75"/></clipPath><g clip-path="url(#c17)"><rect x="565.1" y="478.375" width="11.1" height="10.75" fill="#fff"/><g stroke="#000" stroke-width="1.853"><rect x="568.361" y="478.375" width="1.853" height="10.75" fill="#000" stroke="none"/><rect x="575.773" y="478.375" width="1.853" height="10.75" fill="#000" stroke="none"/><rect x="565.1" y="473.858" width="11.1" height="1.853" fill="#000" stroke="none"/><rect x="565.1" y="481.27" width="11.1" height="1.853" fill="#000" stroke="none"/><rect x="565.1" y="488.682" width="11.1" height="1.853" fill="#000" stroke="none"/></g></g>
<rect x="565.1" y="478.38" width="11.1" height="10.75" fill="none" stroke="#000" stroke-width="1.75" stroke-linejoin="round"/>
<text x="580.7" y="489.40" font-size="16.4" textLength="81.3" lengthAdjust="spacingAndGlyphs">10-60 min</text>
<clipPath id="c18"><rect x="565.1" y="517.075" width="11.1" height="10.75"/></clipPath><g clip-path="url(#c18)"><rect x="565.1" y="517.075" width="11.1" height="10.75" fill="#fff"/><use href="#band" x="562.802" y="466.446"/><use href="#band" x="562.802" y="481.27"/><use href="#band" x="562.802" y="496.094"/><use href="#band" x="562.802" y="510.918"/><use href="#band" x="562.802" y="525.742"/><use href="#band" x="562.802" y="540.566"/></g>
<rect x="565.1" y="517.08" width="11.1" height="10.75" fill="none" stroke="#000" stroke-width="1.75" stroke-linejoin="round"/>
<text x="580.7" y="528.10" font-size="16.4" textLength="89.4" lengthAdjust="spacingAndGlyphs">Immediatly</text>
<clipPath id="c19"><rect x="565.1" y="555.775" width="11.1" height="10.75"/></clipPath><g clip-path="url(#c19)"><rect x="565.1" y="555.775" width="11.1" height="10.75" fill="#000"/><g stroke="#fff" stroke-width="1.853"><line x1="563.729" y1="551.684" x2="563.729" y2="567.525" stroke-dasharray="1.853 5.559"/><line x1="565.582" y1="549.831" x2="565.582" y2="567.525" stroke-dasharray="1.853 1.853 1.853 1.853"/><line x1="567.434" y1="547.978" x2="567.434" y2="567.525" stroke-dasharray="1.853 5.559"/><line x1="569.288" y1="549.831" x2="569.288" y2="567.525" stroke-dasharray="1.853 1.853 1.853 1.853"/><line x1="571.14" y1="551.684" x2="571.14" y2="567.525" stroke-dasharray="1.853 5.559"/><line x1="572.994" y1="549.831" x2="572.994" y2="567.525" stroke-dasharray="1.853 1.853 1.853 1.853"/><line x1="574.846" y1="547.978" x2="574.846" y2="567.525" stroke-dasharray="1.853 5.559"/><line x1="576.7" y1="549.831" x2="576.7" y2="567.525" stroke-dasharray="1.853 1.853 1.853 1.853"/><line x1="578.553" y1="551.684" x2="578.553" y2="567.525" stroke-dasharray="1.853 5.559"/></g></g>
<rect x="565.1" y="555.77" width="11.1" height="10.75" fill="none" stroke="#000" stroke-width="1.75" stroke-linejoin="round"/>
<text x="580.7" y="566.80" font-size="16.4" textLength="103.9" lengthAdjust="spacingAndGlyphs">No time limit</text>
</svg></body></html>
